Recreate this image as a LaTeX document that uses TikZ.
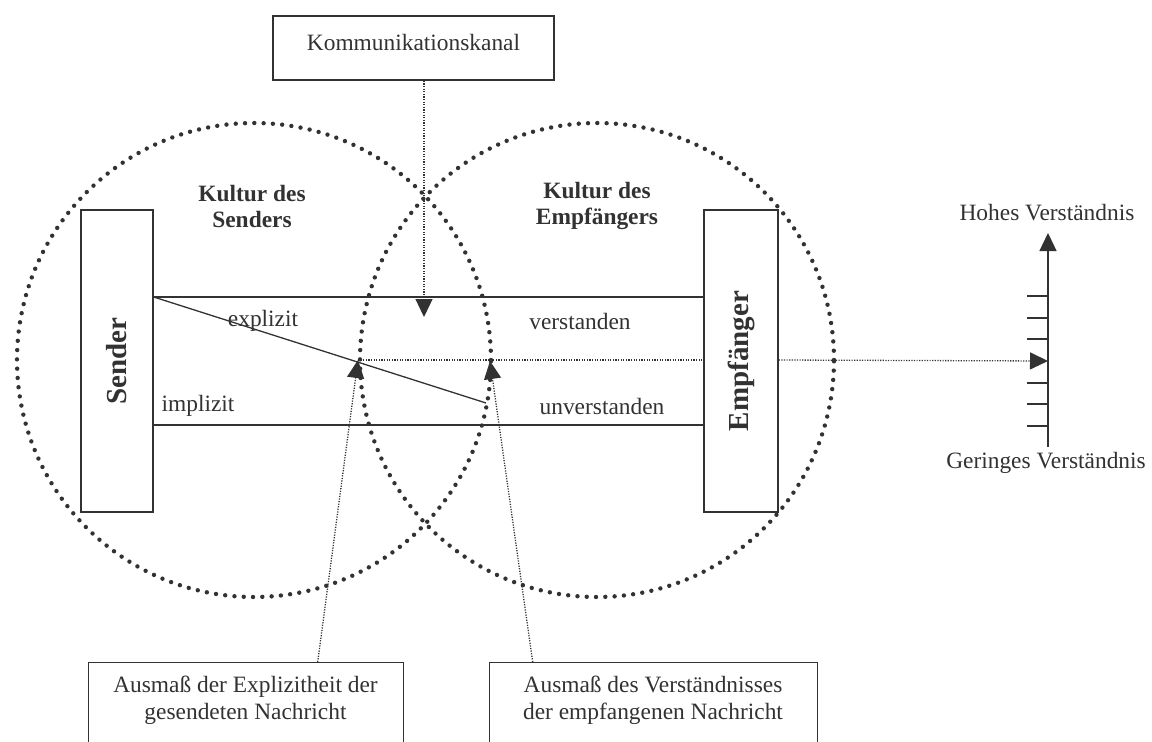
\documentclass[tikz,border=0pt]{standalone}
\usepackage{fontspec}
\setmainfont{Liberation Serif}
\usetikzlibrary{arrows.meta}
\definecolor{ink}{RGB}{50,50,50}
\begin{document}
\begin{tikzpicture}[x=1pt,y=-1pt,
  every node/.style={text=ink, font=\fontsize{23.4}{27}\selectfont, inner sep=0pt},
  frame/.style={draw=ink, line width=1.4pt},
  conn/.style={draw=ink, line width=1.3pt},
  fine/.style={draw=ink, line width=1.3pt, dash pattern=on 1.2pt off 1.4pt},
  culture/.style={draw=ink, line width=4.4pt, line cap=round, dash pattern=on 0pt off 9.3pt},
  tip/.style={-{Triangle[length=18pt,width=17pt]}},
  heading/.style={font=\fontsize{23.4}{26}\selectfont\bfseries, align=center},
  role/.style={font=\fontsize{29}{30}\selectfont\bfseries},
]
\useasboundingbox (0,0) rectangle (1152,742);
\clip (0,0) rectangle (1152,742);

% the two cultures
\draw[culture] (254,360) circle[radius=237pt];
\draw[culture] (597,360) circle[radius=237pt];

% sender and receiver
\node[frame, minimum width=72pt, minimum height=302pt] (sender) at (117,361) {};
\node[role] (sendertext) at (sender.center) {\rotatebox{90}{Sender}};
\node[frame, minimum width=74pt, minimum height=302pt] (recv) at (741,361) {};
\node[role] (recvtext) at (recv.center) {\rotatebox{90}{Empfänger}};

% levels of the message band
\coordinate (upper) at (0,297);
\coordinate (lower) at (0,425);
\coordinate (level) at (0,360);
\coordinate (slant) at (486,403);
\coordinate (leftmark) at (358,360);
\coordinate (rightmark) at (490,361);
\coordinate (channelmark) at (424,317);
\coordinate (scalemark) at (1048,361);
\coordinate (scalelow) at (1048,447);
\coordinate (scalehigh) at (1048,233);

\draw[conn] (sender.east |- upper) -- (recv.west |- upper);
\draw[conn] (sender.east |- lower) -- (recv.west |- lower);
\draw[conn] (sender.east |- upper) -- (slant);

% understanding level
\draw[fine] (leftmark) -- (recv.west |- level);
\draw[fine, tip] (recv.east |- level) -- (scalemark);

% scale
\draw[conn, tip] (scalelow) -- (scalehigh);
\foreach \y in {296,318,339,383,404,426} \draw[conn] (1027,\y) -- (1048,\y);
\node (hoch) at (1047,213) {Hohes Verständnis};
\node (tief) at (1046,463) {Geringes Verständnis};

% channel
\node[frame, minimum width=281pt, minimum height=64pt] (kanal) at (413.5,48) {};
\node (kanaltext) at (413.5,42) {Kommunikationskanal};
\draw[fine, tip] (kanal.south -| channelmark) -- (channelmark);

% labels
\node[heading] (kulturS) at (252,206) {Kultur des\\Senders};
\node[heading] (kulturE) at (597,206) {Kultur des\\Empfängers};
\node (explizit) at (263,321) {explizit};
\node (implizit) at (198,406) {implizit};
\node (verstanden) at (580,321) {verstanden};
\node (unverstanden) at (602,406) {unverstanden};

% measure boxes
\node[frame, anchor=north west, minimum width=315pt, minimum height=110pt] (explbox) at (88,662) {};
\node[align=center] (expltext) at (245.5,700) {Ausmaß der Explizitheit der\\gesendeten Nachricht};
\node[frame, anchor=north west, minimum width=328pt, minimum height=110pt] (verstbox) at (489,662) {};
\node[align=center] (versttext) at (653,700) {Ausmaß des Verständnisses\\der empfangenen Nachricht};

\draw[fine, tip] ([xshift=71.5pt]explbox.north) -- (leftmark);
\draw[fine, tip] ([xshift=-121pt]verstbox.north) -- (rightmark);
\end{tikzpicture}
\end{document}
